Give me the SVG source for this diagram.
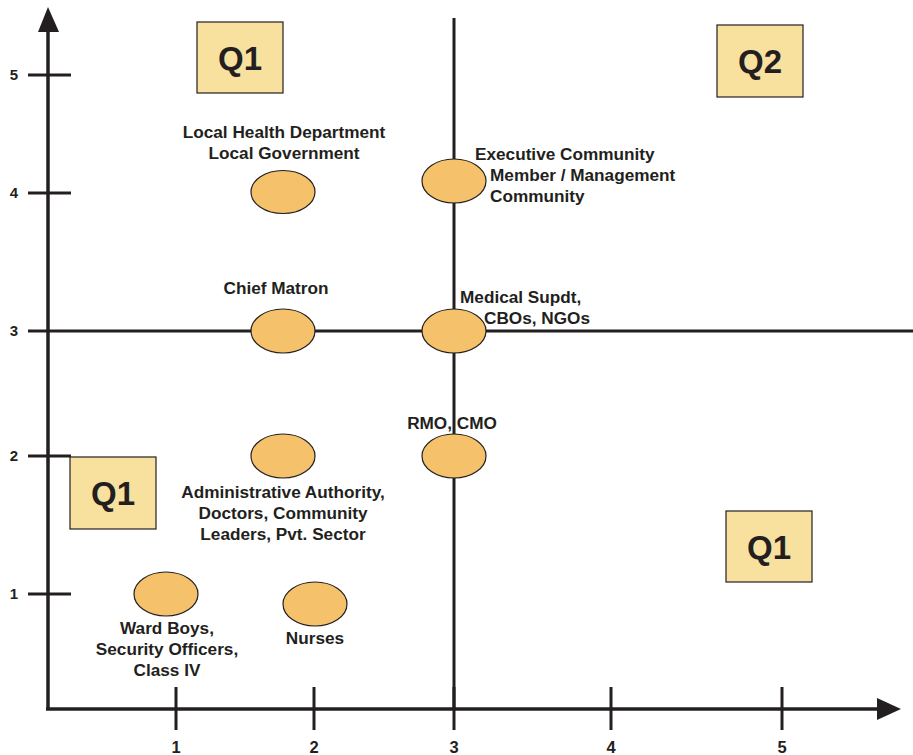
<svg xmlns="http://www.w3.org/2000/svg" width="913" height="755" viewBox="0 0 913 755">
<style>
.ax{stroke:#231f20;stroke-width:3.5;fill:none}
.tk{stroke:#231f20;stroke-width:3;fill:none}
.box{fill:#f8e09f;stroke:#231f20;stroke-width:1.2}
.q{font-family:"Liberation Sans",Arial,sans-serif;font-weight:bold;font-size:33px;fill:#231f20;text-anchor:middle}
.el{fill:#f5c26b;stroke:#231f20;stroke-width:1.2}
.lb{font-family:"Liberation Sans",Arial,sans-serif;font-weight:bold;font-size:17.2px;fill:#231f20}
.c{text-anchor:middle}
.n{font-family:"Liberation Sans",Arial,sans-serif;font-weight:bold;font-size:15px;fill:#231f20;text-anchor:middle}
.nx{font-size:16.5px}
.ah{fill:#231f20}
</style>
<rect width="913" height="755" fill="#ffffff"/>
<g id="connectors">
<line class="ax" x1="48" y1="30" x2="48" y2="709"/>
<polygon class="ah" points="48,7 38,32 59,32"/>
<line class="ax" x1="46" y1="709" x2="880" y2="709"/>
<polygon class="ah" points="901,709 877,698 877,720"/>
<line class="tk" x1="454" y1="18" x2="454" y2="709"/>
<line class="tk" x1="48" y1="331" x2="913" y2="331"/>
<line class="tk" x1="28" y1="75" x2="71" y2="75"/>
<line class="tk" x1="28" y1="193" x2="71" y2="193"/>
<line class="tk" x1="28" y1="331" x2="48" y2="331"/>
<line class="tk" x1="28" y1="456" x2="71" y2="456"/>
<line class="tk" x1="28" y1="594" x2="71" y2="594"/>
<line class="tk" x1="176" y1="687" x2="176" y2="730"/>
<line class="tk" x1="314" y1="687" x2="314" y2="730"/>
<line class="tk" x1="454" y1="687" x2="454" y2="730"/>
<line class="tk" x1="611" y1="687" x2="611" y2="730"/>
<line class="tk" x1="782" y1="687" x2="782" y2="730"/>
</g>
<g id="axis-labels">
<text class="n" x="14" y="80">5</text>
<text class="n" x="14" y="198">4</text>
<text class="n" x="14" y="336">3</text>
<text class="n" x="14" y="461">2</text>
<text class="n" x="14" y="599">1</text>
<text class="n nx" x="176" y="753">1</text>
<text class="n nx" x="314" y="753">2</text>
<text class="n nx" x="454" y="753">3</text>
<text class="n nx" x="611" y="753">4</text>
<text class="n nx" x="782" y="753">5</text>
</g>
<g id="q1-top"><rect class="box" x="197" y="22" width="86" height="71"/><text class="q" x="240" y="70">Q1</text></g>
<g id="q2"><rect class="box" x="717" y="25" width="86" height="72"/><text class="q" x="760" y="73">Q2</text></g>
<g id="q1-left"><rect class="box" x="70" y="457" width="86" height="72"/><text class="q" x="113" y="505">Q1</text></g>
<g id="q1-right"><rect class="box" x="726" y="511" width="86" height="71"/><text class="q" x="769" y="559">Q1</text></g>
<g id="local-health">
<ellipse class="el" cx="283" cy="192" rx="32" ry="21.5"/>
<text class="lb c" x="284" y="138">Local Health Department</text>
<text class="lb c" x="284" y="159">Local Government</text>
</g>
<g id="executive">
<ellipse class="el" cx="454" cy="181" rx="32" ry="22"/>
<text class="lb" x="475" y="160">Executive Community</text>
<text class="lb" x="490" y="181">Member / Management</text>
<text class="lb" x="490" y="202">Community</text>
</g>
<g id="chief-matron">
<ellipse class="el" cx="283" cy="331" rx="32" ry="22"/>
<text class="lb c" x="276" y="294">Chief Matron</text>
</g>
<g id="medical-supdt">
<ellipse class="el" cx="454" cy="331" rx="32" ry="22"/>
<text class="lb" x="460" y="303">Medical Supdt,</text>
<text class="lb" x="484" y="324">CBOs, NGOs</text>
</g>
<g id="rmo-cmo">
<ellipse class="el" cx="454" cy="456" rx="32" ry="22"/>
<text class="lb c" x="452" y="429">RMO, CMO</text>
</g>
<g id="administrative">
<ellipse class="el" cx="283" cy="456" rx="32" ry="22"/>
<text class="lb c" x="283" y="498">Administrative Authority,</text>
<text class="lb c" x="283" y="519">Doctors, Community</text>
<text class="lb c" x="283" y="540">Leaders, Pvt. Sector</text>
</g>
<g id="ward-boys">
<ellipse class="el" cx="166" cy="594" rx="32" ry="22"/>
<text class="lb c" x="167" y="634">Ward Boys,</text>
<text class="lb c" x="167" y="655">Security Officers,</text>
<text class="lb c" x="167" y="676">Class IV</text>
</g>
<g id="nurses">
<ellipse class="el" cx="315" cy="604" rx="32" ry="22"/>
<text class="lb c" x="315" y="644">Nurses</text>
</g>
</svg>
